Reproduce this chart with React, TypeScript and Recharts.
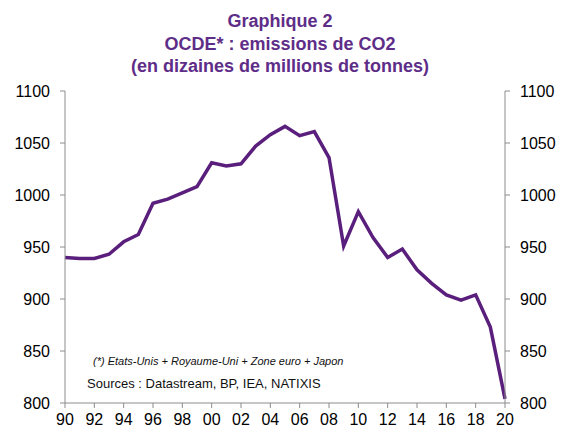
import { LineChart, Line, XAxis, YAxis, Customized } from 'recharts';

const years = [
  1990, 1991, 1992, 1993, 1994, 1995, 1996, 1997, 1998, 1999, 2000,
  2001, 2002, 2003, 2004, 2005, 2006, 2007, 2008, 2009, 2010,
  2011, 2012, 2013, 2014, 2015, 2016, 2017, 2018, 2019, 2020,
];
const emissions = [
  940, 939, 939, 943, 955, 962, 992, 996, 1002, 1008, 1031,
  1028, 1030, 1047, 1058, 1066, 1057, 1061, 1036, 951, 984,
  959, 940, 948, 928, 915, 904, 899, 904, 873, 804,
];
const xTicks = [1990, 1992, 1994, 1996, 1998, 2000, 2002, 2004, 2006, 2008, 2010, 2012, 2014, 2016, 2018, 2020];
const yTicks = [800, 850, 900, 950, 1000, 1050, 1100];

const titleLines = ['Graphique 2', 'OCDE*  : emissions de CO2', '(en dizaines de millions de tonnes)'];
const footnote = '(*) Etats-Unis + Royaume-Uni + Zone euro + Japon';
const sources = 'Sources  : Datastream,  BP, IEA, NATIXIS';

const data = years.map((year, i) => ({ year, value: emissions[i] }));

const FONT = '"Liberation Sans", Arial, sans-serif';
const PURPLE = '#5a1f7c';
const AXIS = '#8c8c8c';

function Annotations() {
  return (
    <g fontFamily={FONT}>
      {titleLines.map((t, i) => (
        <text key={t} x={280} y={27 + i * 22.5} textAnchor="middle" fontSize={18} fontWeight="bold" fill="#5e2d88">
          {t}
        </text>
      ))}
      <text x={93} y={365} fontSize={11} fontStyle="italic" fill="#111">
        {footnote}
      </text>
      <text x={87} y={388} fontSize={13} fill="#111">
        {sources}
      </text>
    </g>
  );
}

export default function App() {
  const tick = { fontSize: 16, fill: '#000', fontFamily: FONT };
  return (
    <div style={{ position: 'absolute', left: 0, top: 0, width: 561, height: 432, background: '#fff' }}>
      <LineChart width={561} height={432} data={data} margin={{ top: 91, right: 1, bottom: 0, left: 0 }}>
        <XAxis
          dataKey="year"
          type="number"
          domain={[1990, 2020]}
          ticks={xTicks}
          interval={0}
          tickFormatter={(y: number) => String(y % 100).padStart(2, '0')}
          axisLine={{ stroke: AXIS }}
          tickLine={{ stroke: AXIS }}
          tickSize={5}
          tickMargin={6}
          height={29}
          tick={tick}
        />
        <YAxis
          yAxisId="left"
          domain={[800, 1100]}
          ticks={yTicks}
          interval={0}
          width={65}
          axisLine={{ stroke: AXIS }}
          tickLine={{ stroke: AXIS }}
          tickSize={5}
          tickMargin={10}
          tick={tick}
        />
        <YAxis
          yAxisId="right"
          orientation="right"
          domain={[800, 1100]}
          ticks={yTicks}
          interval={0}
          width={55}
          axisLine={{ stroke: AXIS }}
          tickLine={{ stroke: AXIS }}
          tickSize={5}
          tickMargin={10}
          tick={tick}
        />
        <Line
          yAxisId="right"
          type="linear"
          dataKey="value"
          stroke="none"
          dot={false}
          activeDot={false}
          isAnimationActive={false}
        />
        <Line
          yAxisId="left"
          type="linear"
          dataKey="value"
          stroke={PURPLE}
          strokeWidth={3.5}
          dot={false}
          isAnimationActive={false}
        />
        <Customized component={Annotations} />
      </LineChart>
    </div>
  );
}
